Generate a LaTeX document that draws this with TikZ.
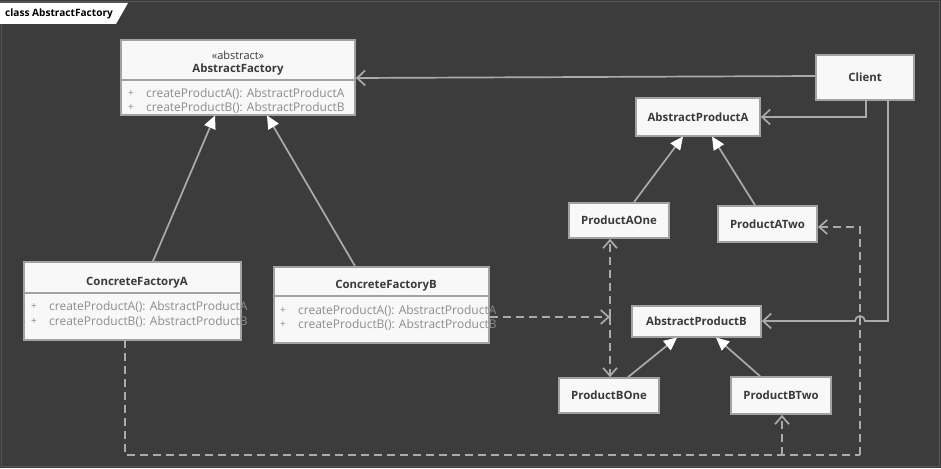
\documentclass[tikz,border=0pt]{standalone}
\usepackage{fontspec}
\setmainfont{Open Sans}
\usetikzlibrary{arrows.meta,calc}
\definecolor{bg}{HTML}{3C3C3C}
\definecolor{frame}{HTML}{555555}
\definecolor{boxline}{HTML}{A2A2A2}
\definecolor{boxfill}{HTML}{F8F8F8}
\definecolor{conn}{HTML}{ABABAB}
\definecolor{nametext}{HTML}{3A3A3A}
\definecolor{methtext}{HTML}{8C8C8C}
\tikzset{
  classbox/.style={draw=boxline, fill=boxfill, line width=1.8pt, rectangle, inner sep=0pt},
  nametxt/.style={text=nametext, font=\bfseries\fontsize{11.4}{13}\selectfont, inner sep=0pt},
  methtxt/.style={text=methtext, font=\fontsize{12}{14}\selectfont, inner sep=0pt, anchor=west},
  plustxt/.style={text=methtext, font=\fontsize{10}{12}\selectfont, inner sep=0pt},
  divider/.style={draw=boxline, line width=1.4pt},
  assoc/.style={draw=conn, line width=1.7pt, -{Straight Barb[length=8pt,width=15pt,line width=1.7pt]}},
  gen/.style={draw=conn, line width=1.7pt, -{Triangle[length=13pt,width=12pt,fill=white,line width=1pt,color=white]}},
  dep/.style={draw=conn, line width=1.7pt, dash pattern=on 8pt off 5pt, -{Straight Barb[length=8pt,width=14pt,line width=1.7pt]}},
  depline/.style={draw=conn, line width=1.7pt, dash pattern=on 8pt off 5pt},
}
\begin{document}
\begin{tikzpicture}[x=1pt,y=-1pt]
\fill[bg] (0,0) rectangle (941,468);
\useasboundingbox (0,0) rectangle (941,468);
\draw[frame, line width=1pt] (1,2) rectangle (939,466);
% tab
\fill[white] (0,3) -- (128,3) -- (116,24) -- (0,24) -- cycle;
\node[anchor=west, inner sep=0pt, font=\bfseries\fontsize{10.1}{12}\selectfont, text=black] (tab) at (5,14) {class AbstractFactory};

% AbstractFactory
\node[classbox, minimum width=234pt, minimum height=75pt] (AF) at (238,77.5) {};
\draw[divider] (121,80) -- (355,80);
\node[text=nametext, inner sep=0pt, font=\fontsize{11}{12}\selectfont] (AFst) at (238,55) {«abstract»};
\node[nametxt] (AFname) at (238,69.5) {AbstractFactory};
\node[plustxt] (AFp1) at (131,93.5) {+};
\node[plustxt] (AFp2) at (131,108) {+};
\node[methtxt] (AFm1) at (146,93.5) {createProductA(): AbstractProductA};
\node[methtxt] (AFm2) at (146,108) {createProductB(): AbstractProductB};

% ConcreteFactoryA
\node[classbox, minimum width=217pt, minimum height=78pt] (CFA) at (132.5,301) {};
\draw[divider] (24,293) -- (241,293);
\node[nametxt] (CFAname) at (137,283) {ConcreteFactoryA};
\node[plustxt] (CFAp1) at (34,307) {+};
\node[plustxt] (CFAp2) at (34,322) {+};
\node[methtxt] (CFAm1) at (49,307) {createProductA(): AbstractProductA};
\node[methtxt] (CFAm2) at (49,322) {createProductB(): AbstractProductB};

% ConcreteFactoryB
\node[classbox, minimum width=215pt, minimum height=76pt] (CFB) at (381.5,305) {};
\draw[divider] (274,296) -- (489,296);
\node[nametxt] (CFBname) at (386,286) {ConcreteFactoryB};
\node[plustxt] (CFBp1) at (283,311) {+};
\node[plustxt] (CFBp2) at (283,325) {+};
\node[methtxt] (CFBm1) at (298,311) {createProductA(): AbstractProductA};
\node[methtxt] (CFBm2) at (298,325) {createProductB(): AbstractProductB};

% simple classes
\node[classbox, minimum width=98pt, minimum height=45pt, nametxt] (Client) at (865,77.5) {Client};
\node[classbox, minimum width=124pt, minimum height=38pt, nametxt] (APA) at (698,117) {AbstractProductA};
\node[classbox, minimum width=100pt, minimum height=35pt, nametxt] (PA1) at (619,220.5) {ProductAOne};
\node[classbox, minimum width=99pt, minimum height=36pt, nametxt] (PA2) at (767.5,224) {ProductATwo};
\node[classbox, minimum width=129pt, minimum height=31pt, nametxt] (APB) at (696.5,321.5) {AbstractProductB};
\node[classbox, minimum width=100pt, minimum height=35pt, nametxt] (PB1) at (609,395.5) {ProductBOne};
\node[classbox, minimum width=100pt, minimum height=37pt, nametxt] (PB2) at (781,395.5) {ProductBTwo};

% associations from Client
\draw[assoc] (Client.west |- 0,76) -- (AF.east |- 0,78);
\coordinate (c1) at (866,100);
\draw[assoc] (c1) |- (APA.east |- 0,117);
\coordinate (c2) at (888,100);
\draw[assoc] (c2) -- (888,321) -- (865,321) arc[start angle=0,end angle=-180,radius=5] -- (APB.east |- 0,321);

% generalizations
\draw[gen] (PA1.north -| 634,0) -- (683,136.5);
\draw[gen] (PA2.north -| 755,0) -- (712,136.5);
\draw[gen] (PB1.north -| 628,0) -- (677,337.5);
\draw[gen] (PB2.north -| 760,0) -- (716,337.5);
\draw[gen] (CFA.north -| 153,0) -- (215,115.5);
\draw[gen] (CFB.north -| 355,0) -- (267,115.5);

% dependencies
\coordinate (j) at (610,317);
\draw[dep] (CFB.east |- j) -- (j);
\draw[dep] (j) -- (j |- PA1.south);
\draw[dep] (j) -- (j |- PB1.north);
\coordinate (d0) at (125,340);
\coordinate (d1) at (125,455);
\coordinate (d2) at (860,455);
\coordinate (d3) at (782,455);
\draw[depline] (d0) -- (d1) -- (d2);
\draw[dep] (d2) |- (PA2.east |- 0,227);
\draw[dep] (d3) -- (PB2.south -| d3);
\end{tikzpicture}
\end{document}
